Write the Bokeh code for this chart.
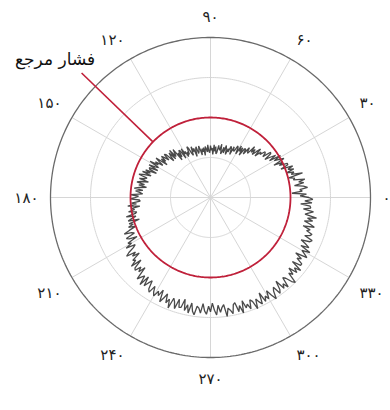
import numpy as np
from bokeh.plotting import figure
from bokeh.models import ColumnDataSource, Range1d
from bokeh.embed import file_html
from bokeh.resources import INLINE
from bokeh.core.properties import value

# ---- data ----
tick_angles = [0, 30, 60, 90, 120, 150, 180, 210, 240, 270, 300, 330]
tick_labels = ["۰", "۳۰", "۶۰", "۹۰", "۱۲۰", "۱۵۰", "۱۸۰", "۲۱۰", "۲۴۰", "۲۷۰", "۳۰۰", "۳۳۰"]
ring_radii = [0.5, 1.0, 1.5]
outer_radius = 2.0
reference_radius = 1.0
reference_label = "فشار مرجع"
trace_step_deg = 1
trace_r = [
    1.23, 1.12, 1.20, 1.02, 1.15, 1.12, 1.22, 1.17, 1.06, 1.18, 1.12, 1.20, 1.06, 1.08, 1.01, 1.19, 1.05, 1.09, 1.00, 1.10,
    1.03, 1.10, 0.95, 1.05, 1.05, 0.95, 1.00, 0.89, 1.04, 0.98, 0.92, 1.02, 0.87, 0.97, 0.90, 0.83, 0.93, 0.94, 0.83, 0.88,
    0.89, 0.82, 0.85, 0.76, 0.87, 0.81, 0.75, 0.82, 0.76, 0.84, 0.72, 0.74, 0.79, 0.68, 0.75, 0.74, 0.64, 0.74, 0.68, 0.75,
    0.63, 0.71, 0.73, 0.65, 0.65, 0.70, 0.59, 0.67, 0.69, 0.61, 0.65, 0.57, 0.64, 0.68, 0.58, 0.65, 0.59, 0.56, 0.68, 0.60,
    0.62, 0.66, 0.57, 0.55, 0.64, 0.58, 0.66, 0.54, 0.62, 0.59, 0.65, 0.56, 0.58, 0.66, 0.57, 0.61, 0.64, 0.53, 0.63, 0.58,
    0.62, 0.54, 0.61, 0.66, 0.59, 0.57, 0.66, 0.63, 0.54, 0.65, 0.61, 0.68, 0.57, 0.60, 0.67, 0.70, 0.60, 0.64, 0.58, 0.66,
    0.63, 0.71, 0.58, 0.69, 0.71, 0.62, 0.69, 0.59, 0.76, 0.71, 0.67, 0.78, 0.65, 0.76, 0.71, 0.65, 0.77, 0.79, 0.70, 0.76,
    0.80, 0.72, 0.78, 0.68, 0.84, 0.78, 0.72, 0.82, 0.77, 0.88, 0.75, 0.79, 0.87, 0.74, 0.85, 0.84, 0.74, 0.88, 0.81, 0.91,
    0.79, 0.89, 0.94, 0.83, 0.85, 0.92, 0.80, 0.89, 0.94, 0.84, 0.91, 0.81, 0.90, 0.96, 0.85, 0.94, 0.88, 0.85, 1.00, 0.90,
    0.94, 1.00, 0.89, 0.88, 0.99, 0.93, 1.04, 0.89, 1.00, 0.96, 1.04, 0.94, 0.96, 1.08, 0.96, 1.02, 1.07, 0.93, 1.07, 1.02,
    1.09, 1.00, 1.09, 1.17, 1.08, 1.05, 1.17, 1.14, 1.04, 1.18, 1.14, 1.23, 1.11, 1.15, 1.23, 1.28, 1.16, 1.22, 1.13, 1.25,
    1.22, 1.31, 1.17, 1.29, 1.31, 1.23, 1.29, 1.20, 1.37, 1.32, 1.28, 1.40, 1.26, 1.38, 1.32, 1.27, 1.38, 1.41, 1.31, 1.38,
    1.42, 1.34, 1.39, 1.30, 1.45, 1.39, 1.32, 1.43, 1.37, 1.48, 1.34, 1.38, 1.46, 1.33, 1.43, 1.42, 1.31, 1.45, 1.37, 1.47,
    1.34, 1.44, 1.48, 1.37, 1.39, 1.45, 1.33, 1.42, 1.46, 1.36, 1.43, 1.32, 1.41, 1.47, 1.35, 1.44, 1.38, 1.35, 1.50, 1.40,
    1.43, 1.48, 1.37, 1.35, 1.47, 1.40, 1.50, 1.35, 1.45, 1.41, 1.48, 1.37, 1.40, 1.51, 1.39, 1.44, 1.48, 1.34, 1.47, 1.41,
    1.46, 1.36, 1.44, 1.51, 1.41, 1.37, 1.48, 1.44, 1.33, 1.46, 1.41, 1.48, 1.35, 1.38, 1.46, 1.50, 1.36, 1.41, 1.32, 1.43,
    1.37, 1.45, 1.30, 1.41, 1.41, 1.32, 1.37, 1.27, 1.42, 1.37, 1.32, 1.42, 1.28, 1.38, 1.32, 1.25, 1.36, 1.38, 1.27, 1.33,
    1.35, 1.27, 1.31, 1.21, 1.35, 1.29, 1.21, 1.31, 1.24, 1.35, 1.20, 1.24, 1.30, 1.17, 1.26, 1.25, 1.13, 1.27, 1.18, 1.28,
]

# ---- layout / style ----
W, H = 390, 410
PX = 80.0          # pixels per radial unit
CX, CY = 210, 197  # centre in plot pixels
label_r = 2.15
annot_angle = 136
annot_r0, annot_r1 = 1.0, 2.24
annot_dx, annot_dy = 0.17, 0.17
FONT = "DejaVu Sans"

p = figure(width=W, height=H, output_backend="svg", toolbar_location=None,
           x_range=Range1d(-CX / PX, (W - CX) / PX),
           y_range=Range1d(-(H - CY) / PX, CY / PX),
           min_border=0)
p.axis.visible = False
p.grid.visible = False
p.outline_line_color = None
p.background_fill_color = "white"
p.border_fill_color = "white"

# spokes
for a in tick_angles:
    t = np.deg2rad(a)
    p.line([0, outer_radius * np.cos(t)], [0, outer_radius * np.sin(t)],
           line_color="#d6d6d6", line_width=1)

# rings
circ = np.deg2rad(np.arange(0, 361, 1))
for r in ring_radii:
    p.line(r * np.cos(circ), r * np.sin(circ), line_color="#d6d6d6", line_width=1)
p.line(outer_radius * np.cos(circ), outer_radius * np.sin(circ),
       line_color="#6a6a6a", line_width=1.3)

# trace
th = np.deg2rad(np.arange(0, 360, trace_step_deg))
rr = np.array(trace_r)
tx = np.append(rr * np.cos(th), rr[0] * np.cos(th[0]))
ty = np.append(rr * np.sin(th), rr[0] * np.sin(th[0]))
p.line(tx, ty, line_color="#2a2a2a", line_width=1.3, line_alpha=0.85)

# reference circle
p.line(reference_radius * np.cos(circ), reference_radius * np.sin(circ),
       line_color="#c0203a", line_width=1.8)

# annotation leader + label
ta = np.deg2rad(annot_angle)
p.line([annot_r0 * np.cos(ta), annot_r1 * np.cos(ta)],
       [annot_r0 * np.sin(ta), annot_r1 * np.sin(ta)],
       line_color="#c0203a", line_width=1.6)
p.text(x=[annot_r1 * np.cos(ta) + annot_dx], y=[annot_r1 * np.sin(ta) + annot_dy],
       text=[reference_label], text_font=value(FONT), text_font_size="17px",
       text_align="right", text_baseline="middle", text_color="#111111")

# angle labels
xs, ys, al, bl = [], [], [], []
for a in tick_angles:
    t = np.deg2rad(a)
    c, s = np.cos(t), np.sin(t)
    xs.append(label_r * c)
    ys.append(label_r * s)
    al.append("left" if c > 0.1 else ("right" if c < -0.1 else "center"))
    bl.append("bottom" if s > 0.1 else ("top" if s < -0.1 else "middle"))
src = ColumnDataSource(dict(x=xs, y=ys, text=tick_labels, align=al, base=bl))
p.text(x="x", y="y", text="text", source=src, text_align="align", text_baseline="base",
       text_font=value(FONT), text_font_size="15px", text_color="#222222")

open("out.html", "w").write(file_html(p, INLINE))
